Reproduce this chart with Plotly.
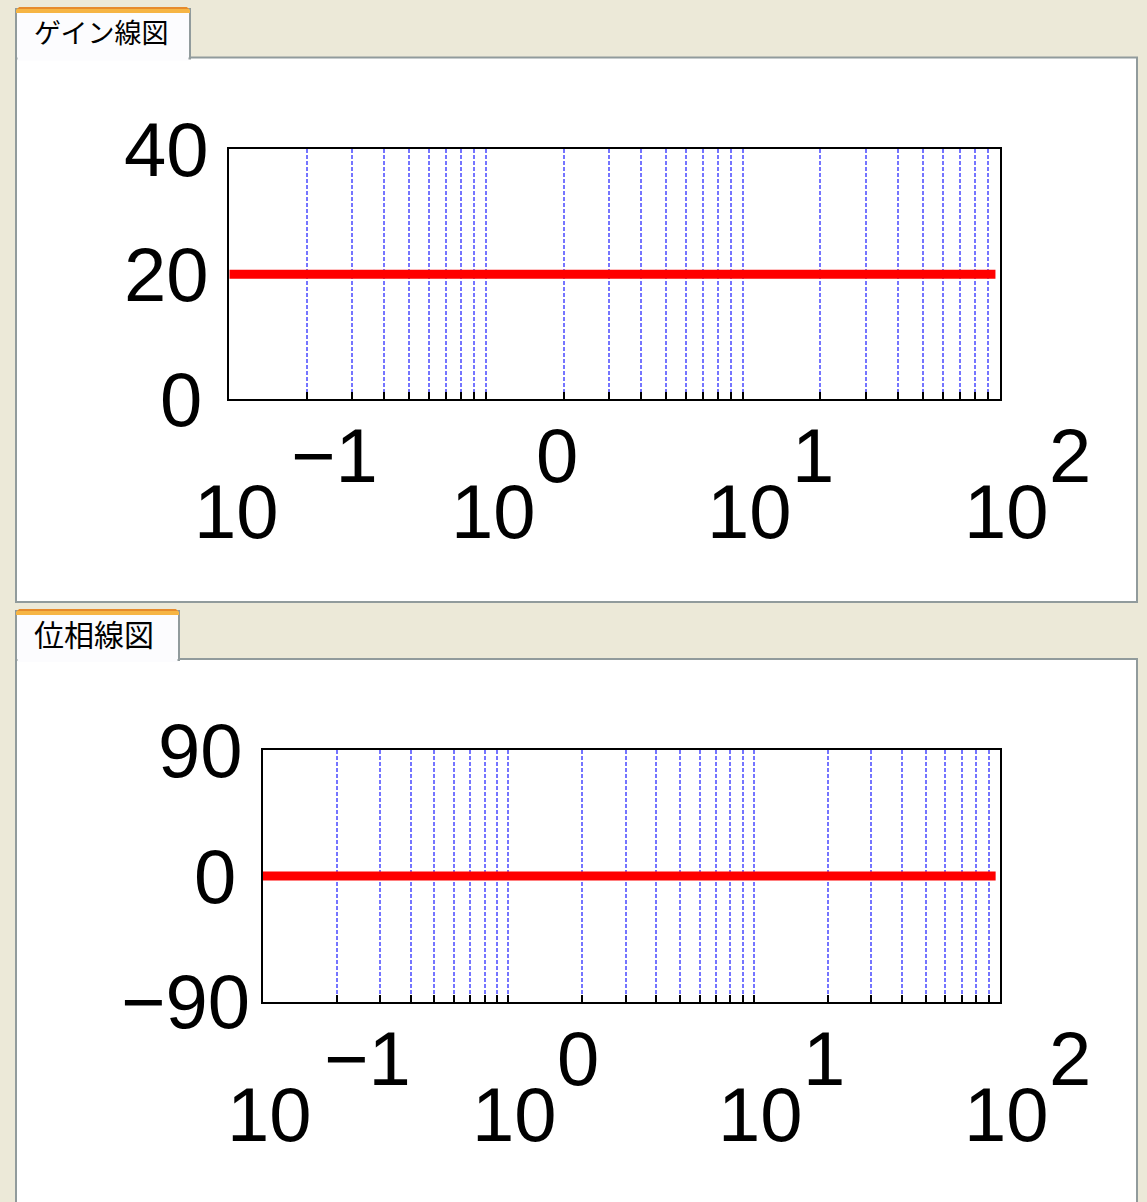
import math
import plotly.graph_objects as go

W, H = 1147, 1202

# ---- data -------------------------------------------------------------
freq = [0.05, 48]            # rad/s, ends of the plotted response
gain_db = [20, 20]           # flat 20 dB gain (K = 10)
phase_deg = [0, 0]           # no phase shift

grid_freqs = [0.1, 0.15, 0.2, 0.25, 0.3, 0.35, 0.4, 0.45, 0.5,
              1, 1.5, 2, 2.5, 3, 3.5, 4, 4.5, 5,
              10, 15, 20, 25, 30, 35, 40, 45]
decade_exponents = [-1, 0, 1, 2]
freq_range = [0.05, 50]
gain_ticks = [0, 20, 40]
gain_range = [0, 40]
phase_ticks = [-90, 0, 90]
phase_range = [-90, 90]
tab_titles = ["ゲイン線図", "位相線図"]

# ---- helpers ----------------------------------------------------------
NUM_FONT = "Liberation Sans, Arial, sans-serif"
JP_FONT = "Noto Sans CJK JP, sans-serif"
BIG = 76


def px(x):
    return x / W


def py(y):
    return 1 - y / H


def num(v):
    return str(v).replace("-", "\u2212")


fig = go.Figure()

fig.add_trace(go.Scatter(x=freq, y=gain_db, mode="lines",
                         line=dict(color="#ff0000", width=9),
                         xaxis="x", yaxis="y", hoverinfo="skip"))
fig.add_trace(go.Scatter(x=freq, y=phase_deg, mode="lines",
                         line=dict(color="#ff0000", width=9),
                         xaxis="x2", yaxis="y2", hoverinfo="skip"))

log_lo, log_hi = math.log10(freq_range[0]), math.log10(freq_range[1])

xaxis_common = dict(
    type="log",
    range=[log_lo, log_hi],
    tickmode="array",
    tickvals=grid_freqs,
    showticklabels=False,
    ticks="inside",
    ticklen=7,
    tickwidth=2,
    tickcolor="#000000",
    showgrid=True,
    gridcolor="#7575ff",
    gridwidth=1.6,
    griddash="4px,2px",
    showline=True,
    linecolor="#000000",
    linewidth=2,
    mirror=True,
    zeroline=False,
    fixedrange=True,
)
yaxis_common = dict(
    showticklabels=False,
    ticks="",
    showgrid=False,
    zeroline=False,
    showline=True,
    linecolor="#000000",
    linewidth=2,
    mirror=True,
    fixedrange=True,
)

fig.update_layout(
    width=W, height=H,
    margin=dict(l=0, r=0, t=0, b=0),
    paper_bgcolor="#ece9d8",
    plot_bgcolor="#ffffff",
    showlegend=False,
    hovermode=False,
    xaxis=dict(xaxis_common, domain=[px(229.3), px(1000)], anchor="y"),
    yaxis=dict(yaxis_common, range=gain_range, domain=[py(399), py(149.3)], anchor="x"),
    xaxis2=dict(xaxis_common, domain=[px(262.7), px(1000)], anchor="y2"),
    yaxis2=dict(yaxis_common, range=phase_range, domain=[py(1001.7), py(750.3)], anchor="x2"),
)

# ---- tab panels -------------------------------------------------------
BORDER = "#919b9c"
shapes = []


def rect(x0, y0, x1, y1, fill, line=None, lw=0):
    shapes.append(dict(type="rect", xref="paper", yref="paper",
                       x0=px(x0), x1=px(x1), y0=py(y1), y1=py(y0),
                       fillcolor=fill,
                       line=dict(color=line or fill, width=lw),
                       layer="below"))


def path(points, fill):
    d = "M " + " L ".join(f"{px(x):.5f},{py(y):.5f}" for x, y in points) + " Z"
    shapes.append(dict(type="path", xref="paper", yref="paper", path=d,
                       fillcolor=fill, line=dict(width=0), layer="below"))


def tab_panel(top, tab_right, panel_top, panel_bottom):
    rect(16, panel_top, 1137, panel_bottom, "#ffffff", BORDER, 2)
    rect(16, top + 2, tab_right, panel_top + 1, "#fcfcfe", BORDER, 2)
    rect(17.5, panel_top - 2, tab_right - 1.5, panel_top + 3, "#fcfcfe")
    # orange highlight strip along the top of the active tab
    path([(16, top + 6), (16, top + 3), (18, top + 1), (19.5, top),
          (tab_right - 3.5, top), (tab_right - 2, top + 1), (tab_right, top + 3),
          (tab_right, top + 6)], "#f6b544")
    path([(17, top + 2), (19.5, top), (tab_right - 3.5, top),
          (tab_right - 1, top + 2)], "#e68b2c")


tab_panel(7, 190, 57.5, 602)
tab_panel(609, 179, 659, 1210)

fig.update_layout(shapes=shapes)

# ---- text -------------------------------------------------------------
ann = []
for title, yc, size in zip(tab_titles, [32, 633], [27, 30]):
    ann.append(dict(text=title, xref="paper", yref="paper", x=px(32), y=py(yc),
                    xanchor="left", yanchor="middle", showarrow=False,
                    font=dict(family=JP_FONT, size=size, color="#000000")))


def y_labels(ticks, xref, yref):
    for v in ticks:
        txt = num(v)
        # longer labels sit a little further to the right
        ann.append(dict(text=txt, xref=xref + " domain", yref=yref, x=0, y=v,
                        xanchor="right", yanchor="middle", showarrow=False,
                        xshift=-32 + 7 * len(txt),
                        font=dict(family=NUM_FONT, size=BIG, color="#000000")))


def x_labels(xref, yref, base_shift):
    for e in decade_exponents:
        frac = (e - log_lo) / (log_hi - log_lo)
        common = dict(xref=xref + " domain", yref=yref + " domain", x=frac, y=0,
                      xanchor="left", yanchor="top", showarrow=False,
                      font=dict(family=NUM_FONT, size=BIG, color="#000000"))
        ann.append(dict(common, text="10", xshift=base_shift, yshift=-68))
        ann.append(dict(common, text=num(e),
                        xshift=base_shift + 85 + (12 if e < 0 else 0),
                        yshift=-12))


y_labels(gain_ticks, "x", "y")
y_labels(phase_ticks, "x2", "y2")
x_labels("x", "y", -115)
x_labels("x2", "y2", -112)

fig.update_layout(annotations=ann)

fig.write_html("out.html")
